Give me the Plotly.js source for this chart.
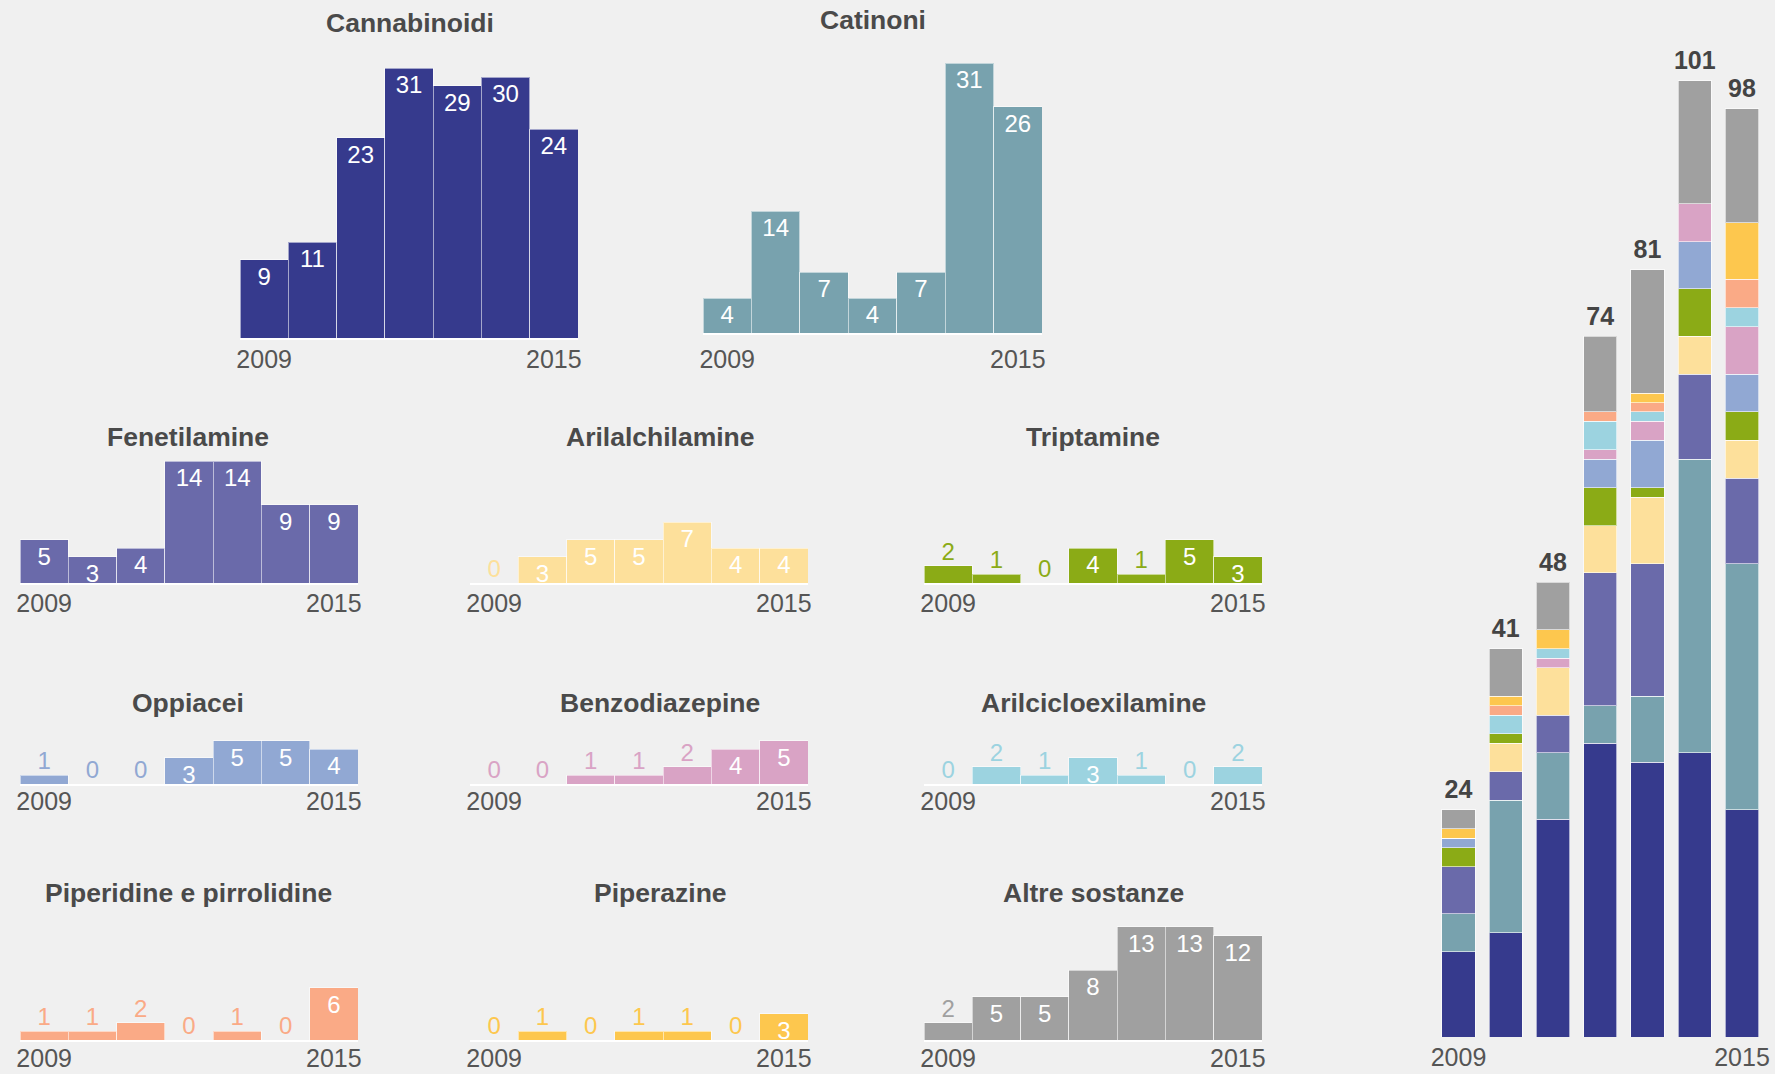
<!DOCTYPE html>
<html><head><meta charset="utf-8">
<script src="https://cdn.plot.ly/plotly-3.0.1.min.js"></script>
<style>html,body{margin:0;padding:0;background:#f0f0f0;}#chart{width:1775px;height:1074px;}</style>
</head><body><div id="chart"></div>
<script>
// ---- data ----
const years = ['2009','2010','2011','2012','2013','2014','2015'];
const tickLabels = ['2009','2015'];
const cannabinoidi = [9,11,23,31,29,30,24];
const catinoni = [4,14,7,4,7,31,26];
const fenetilamine = [5,3,4,14,14,9,9];
const arilalchilamine = [0,3,5,5,7,4,4];
const triptamine = [2,1,0,4,1,5,3];
const oppiacei = [1,0,0,3,5,5,4];
const benzodiazepine = [0,0,1,1,2,4,5];
const arilcicloexilamine = [0,2,1,3,1,0,2];
const piperidine = [1,1,2,0,1,0,6];
const piperazine = [0,1,0,1,1,0,3];
const altre = [2,5,5,8,13,13,12];

// ---- styling / layout ----
const W = 1775, H = 1074;
const SCALE = 8.7, SCALE_STACK = 9.47;
const FONT = 'Liberation Sans, Arial, sans-serif';
const C = {
  navy:'#363a8d', teal:'#78a2ae', purple:'#6a6aaa', ylight:'#fde09b', green:'#8bab16',
  blue:'#91a8d3', pink:'#d9a3c5', cyan:'#9cd3e0', salmon:'#faaa86', gold:'#fdc74e', gray:'#a0a0a0'
};
const panels = [
  {name:'Cannabinoidi', data:cannabinoidi, color:C.navy, x0:240, x1:578, base:338, h:285, tx:410, ty:23, so:-2},
  {name:'Catinoni', data:catinoni, color:C.teal, x0:703, x1:1042, base:333, h:285, tx:873, ty:20, so:3},
  {name:'Fenetilamine', data:fenetilamine, color:C.purple, x0:20, x1:358, base:583, h:130, tx:188, ty:437, so:-3},
  {name:'Arilalchilamine', data:arilalchilamine, color:C.ylight, x0:470, x1:808, base:583, h:130, tx:660, ty:437, so:-3},
  {name:'Triptamine', data:triptamine, color:C.green, x0:924, x1:1262, base:583, h:130, tx:1093, ty:437, so:-3},
  {name:'Oppiacei', data:oppiacei, color:C.blue, x0:20, x1:358, base:784, h:60, tx:188, ty:703, so:-6},
  {name:'Benzodiazepine', data:benzodiazepine, color:C.pink, x0:470, x1:808, base:784, h:60, tx:660, ty:703, so:-6},
  {name:'Arilcicloexilamine', data:arilcicloexilamine, color:C.cyan, x0:924, x1:1262, base:784, h:60, tx:1093, ty:703, so:-6},
  {name:'Piperidine e pirrolidine', data:piperidine, color:C.salmon, x0:20, x1:358, base:1040, h:120, tx:188, ty:893, so:-5},
  {name:'Piperazine', data:piperazine, color:C.gold, x0:470, x1:808, base:1040, h:120, tx:660, ty:893, so:-5},
  {name:'Altre sostanze', data:altre, color:C.gray, x0:924, x1:1262, base:1040, h:120, tx:1093, ty:893, so:-5}
];
// stacked order (bottom to top) and colours as drawn in the summary column
const stackSeries = [cannabinoidi, catinoni, fenetilamine, arilalchilamine, triptamine, oppiacei,
                     benzodiazepine, arilcicloexilamine, piperazine, piperidine, altre];
const stackColors = [C.navy, C.teal, C.purple, C.ylight, C.green, C.blue, C.pink, C.cyan, C.salmon, C.gold, C.gray];

const traces = [];
const layout = {
  width: W, height: H, margin:{l:0,r:0,t:0,b:0},
  paper_bgcolor:'#f0f0f0', plot_bgcolor:'rgba(0,0,0,0)',
  showlegend:false, barmode:'stack',
  font:{family:FONT, color:'#555'},
  annotations:[]
};

function xAxisCfg(domain, anchor, showLine, standoff){
  return {domain:domain, anchor:anchor, type:'category', tickvals:tickLabels, ticktext:tickLabels,
    ticks:'', showgrid:false, zeroline:false, showline:showLine, linecolor:'#ffffff', linewidth:2,
    layer:'below traces', ticklabelstandoff:standoff,
    tickfont:{size:25, color:'#555', family:FONT}, fixedrange:true};
}

panels.forEach((p, i) => {
  const k = i + 1, sx = k === 1 ? '' : String(k);
  layout['xaxis' + sx] = xAxisCfg([p.x0 / W, p.x1 / W], 'y' + sx, true, p.so);
  layout['yaxis' + sx] = {domain:[1 - p.base / H, 1 - (p.base - p.h) / H], anchor:'x' + sx,
    range:[0, p.h / SCALE], visible:false, fixedrange:true};
  traces.push({type:'bar', x:years, y:p.data, xaxis:'x' + sx, yaxis:'y' + sx, width:1,
    marker:{color:p.color, line:{color:'rgba(255,255,255,0.55)', width:1}},
    text:p.data.map(v => v >= 3 ? String(v) : ''), textposition:'inside', insidetextanchor:'end',
    textangle:0, constraintext:'none', insidetextfont:{color:'#ffffff', size:24, family:FONT},
    cliponaxis:false, hoverinfo:'x+y'});
  const sm = p.data.map((v, j) => ({v, x:years[j]})).filter(d => d.v < 3);
  traces.push({type:'scatter', mode:'text', x:sm.map(d => d.x), y:sm.map(d => d.v),
    text:sm.map(d => String(d.v)), textposition:'top center', xaxis:'x' + sx, yaxis:'y' + sx,
    textfont:{color:p.color, size:24, family:FONT}, cliponaxis:false, hoverinfo:'skip'});
  layout.annotations.push({text:p.name, x:p.tx / W, y:1 - p.ty / H, xref:'paper', yref:'paper',
    xanchor:'center', yanchor:'middle', showarrow:false,
    font:{size:26.5, color:'#4a4a4a', family:FONT, weight:'bold'}});
});

// summary stacked column
const sk = String(panels.length + 1);
const stackBase = 1037, stackTop = 40;
layout['xaxis' + sk] = xAxisCfg([1434.85 / W, 1765.65 / W], 'y' + sk, false, 3);
layout['yaxis' + sk] = {domain:[1 - stackBase / H, 1 - stackTop / H], anchor:'x' + sk,
  range:[0, (stackBase - stackTop) / SCALE_STACK], visible:false, fixedrange:true};
stackSeries.forEach((s, i) => {
  traces.push({type:'bar', x:years, y:s, xaxis:'x' + sk, yaxis:'y' + sk, width:0.70,
    marker:{color:stackColors[i], line:{color:'rgba(255,255,255,0.6)', width:1}}, hoverinfo:'x+y'});
});
const totals = years.map((_, j) => stackSeries.reduce((a, s) => a + s[j], 0));
traces.push({type:'scatter', mode:'markers+text', x:years, y:totals, text:totals.map(String),
  textposition:'top center', xaxis:'x' + sk, yaxis:'y' + sk,
  marker:{size:7, opacity:0, color:'#000'},
  textfont:{size:25, color:'#444', family:FONT, weight:'bold'}, cliponaxis:false, hoverinfo:'skip'});

Plotly.newPlot('chart', traces, layout, {staticPlot:true, displayModeBar:false});
</script>
</body></html>
